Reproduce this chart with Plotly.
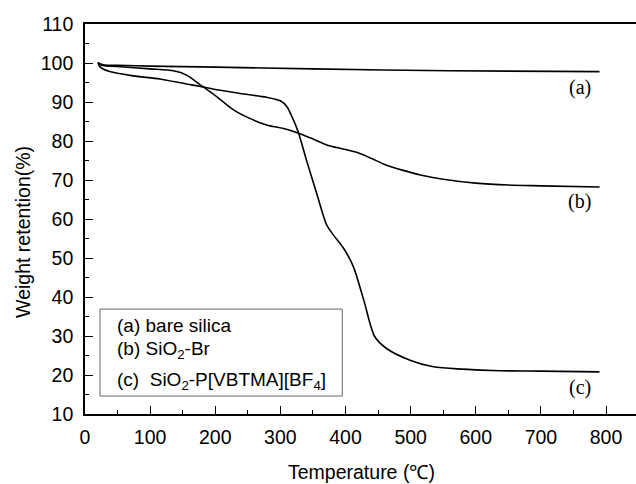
import plotly.graph_objects as go

# Data
temp_a = [20, 25, 30, 50, 100, 180, 350, 560, 790]
wt_a = [100.0, 99.7, 99.5, 99.4, 99.2, 99.0, 98.5, 98.0, 97.8]

temp_b = [20, 23, 30, 49, 100, 136, 156, 177, 202, 228, 253, 279, 305, 328, 350,
          371, 400, 422, 440, 463, 490, 515, 550, 600, 650, 700, 790]
wt_b = [100.2, 99.6, 99.3, 99.1, 98.5, 98.0, 96.9, 94.4, 91.4, 88.0, 85.8, 84.1, 83.2,
        82.0, 80.5, 79.0, 77.8, 76.8, 75.5, 73.8, 72.4, 71.3, 70.2, 69.2, 68.7, 68.5, 68.2]

temp_c = [20, 23, 38, 74, 115, 156, 177, 200, 238, 279, 300, 310, 320, 328, 340, 356,
          371, 381, 397, 412, 428, 445, 463, 499, 535, 580, 637, 700, 790]
wt_c = [100.0, 99.0, 97.8, 96.7, 95.9, 94.6, 94.0, 93.2, 92.2, 91.2, 90.3, 88.8, 85.4,
        82.0, 75.1, 66.4, 58.5, 56.0, 52.5, 47.8, 39.2, 29.8, 26.8, 23.8, 22.1, 21.5,
        21.1, 21.0, 20.8]

curve_labels = ["(a)", "(b)", "(c)"]
legend_texts = ["(a) bare silica", "(b) SiO<sub>2</sub>-Br",
                "(c)  SiO<sub>2</sub>-P[VBTMA][BF<sub>4</sub>]"]
x_title = "Temperature (℃)"
y_title = "Weight retention(%)"

SANS = "Liberation Sans, Arial, sans-serif"
SERIF = "Liberation Serif, Times New Roman, serif"

fig = go.Figure()
for t, w in [(temp_a, wt_a), (temp_b, wt_b), (temp_c, wt_c)]:
    fig.add_trace(go.Scatter(x=t, y=w, mode="lines",
                             line=dict(color="black", width=1.6, shape="spline", smoothing=0.8),
                             showlegend=False, hoverinfo="skip"))

# curve labels
for lab, yv in zip(curve_labels, [93.6, 64.4, 16.9]):
    fig.add_annotation(x=760, y=yv, xref="x", yref="y", text=lab, showarrow=False,
                       font=dict(family=SERIF, size=20, color="black"))

# legend box
fig.add_shape(type="rect", xref="x", yref="y", x0=23, x1=395, y0=14.6, y1=36.9,
              line=dict(color="#666666", width=1), fillcolor="white", layer="above")
for txt, yv in zip(legend_texts, [32.6, 26.4, 18.4]):
    fig.add_annotation(x=46, y=yv, xref="x", yref="y", text=txt, showarrow=False,
                       xanchor="left", font=dict(family=SANS, size=19, color="black"))

# axis titles
fig.add_annotation(x=0.501, y=-0.149, xref="paper", yref="paper", text=x_title,
                   showarrow=False, yanchor="middle",
                   font=dict(family=SANS, size=19.5, color="black"))
fig.add_annotation(x=-0.1125, y=0.467, xref="paper", yref="paper", text=y_title,
                   showarrow=False, textangle=-90, xanchor="center", yanchor="middle",
                   font=dict(family=SANS, size=19.5, color="black"))

fig.update_layout(
    width=636, height=484,
    margin=dict(l=85, r=0, t=24, b=70),
    paper_bgcolor="white", plot_bgcolor="white",
    font=dict(family=SANS, size=19.5, color="black"),
)
fig.update_xaxes(range=[0, 846], dtick=100, tick0=0, showgrid=False, zeroline=False,
                 showline=True, linecolor="black", linewidth=1.6, mirror=True,
                 ticks="inside", ticklen=8, tickwidth=1.4, tickcolor="black",
                 minor=dict(dtick=50, ticks="inside", ticklen=4, tickwidth=1.2, tickcolor="black"),
                 tickfont=dict(family=SANS, size=19.5), ticklabelstandoff=5)
fig.update_yaxes(range=[10, 110], dtick=10, tick0=10, showgrid=False, zeroline=False,
                 showline=True, linecolor="black", linewidth=1.6,
                 ticks="inside", ticklen=8, tickwidth=1.4, tickcolor="black",
                 minor=dict(dtick=5, ticks="inside", ticklen=4, tickwidth=1.2, tickcolor="black"),
                 tickfont=dict(family=SANS, size=19.5), ticklabelstandoff=6)

fig.write_html("out.html", config={"displayModeBar": False},
               post_script="document.body.style.margin='0';")
